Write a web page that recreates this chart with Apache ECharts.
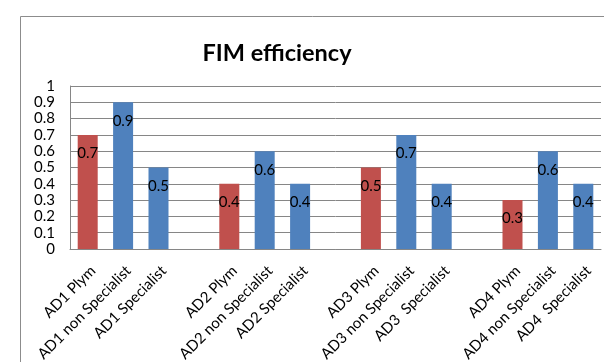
<!DOCTYPE html>
<html>
<head>
<meta charset="utf-8">
<script src="https://cdn.jsdelivr.net/npm/echarts@6/dist/echarts.min.js"></script>
<style>
  html, body { margin: 0; padding: 0; background: #fff; }
  #chart { width: 604px; height: 362px; }
</style>
</head>
<body>
<div id="chart"></div>
<script>
// FIM efficiency per AD group: Plym, non Specialist and Specialist
const categories = [
  'AD1 Plym', 'AD1 non Specialist', 'AD1 Specialist', ' ',
  'AD2 Plym', 'AD2 non Specialist', 'AD2 Specialist', '  ',
  'AD3 Plym', 'AD3 non Specialist', 'AD3  Specialist', '   ',
  'AD4 Plym', 'AD4 non Specialist', 'AD4  Specialist'
];
const efficiency = [0.7, 0.9, 0.5, null, 0.4, 0.6, 0.4, null, 0.5, 0.7, 0.4, null, 0.3, 0.6, 0.4];
const yTicks = [0, 0.1, 0.2, 0.3, 0.4, 0.5, 0.6, 0.7, 0.8, 0.9, 1];

const RED = '#C0504D';
const BLUE = '#4F81BD';
const FONT = 'Lato';

const chart = echarts.init(document.getElementById('chart'));

const barData = efficiency.map((v, i) => ({
  value: v,
  itemStyle: { color: categories[i].indexOf('Plym') >= 0 ? RED : BLUE }
}));

chart.setOption({
  animation: false,
  graphic: [
    {
      type: 'rect',
      shape: { x: 20.5, y: 16.5, width: 620, height: 400 },
      style: { fill: 'none', stroke: '#8c8c8c', lineWidth: 1 },
      silent: true
    },
    {
      type: 'text',
      x: 277, y: 53,
      style: {
        text: 'FIM efficiency',
        fontFamily: FONT,
        fontWeight: 'bold',
        fontSize: 23.5,
        fill: '#000',
        textAlign: 'center',
        textVerticalAlign: 'middle'
      }
    }
  ],
  grid: {
    left: 70, right: 3, top: 86, bottom: 113,
    containLabel: false,
    outerBoundsMode: 'none'
  },
  xAxis: {
    type: 'category',
    data: categories,
    axisLine: { lineStyle: { color: '#868686' } },
    axisTick: { show: false },
    axisLabel: {
      interval: 0,
      rotate: 45,
      align: 'right',
      verticalAlign: 'top',
      margin: 14,
      color: '#000',
      fontFamily: FONT,
      fontSize: 15
    }
  },
  yAxis: {
    type: 'value',
    min: yTicks[0],
    max: yTicks[yTicks.length - 1],
    interval: 0.1,
    axisLine: { show: true, lineStyle: { color: '#868686' } },
    axisTick: { show: false },
    axisLabel: {
      color: '#000',
      fontFamily: FONT,
      fontSize: 15,
      margin: 15
    },
    splitLine: { lineStyle: { color: '#868686' } }
  },
  series: [{
    type: 'bar',
    data: barData,
    barWidth: 20,
    label: {
      show: true,
      position: 'insideTop',
      distance: 11,
      color: '#000',
      fontFamily: FONT,
      fontSize: 15
    }
  }]
});
</script>
</body>
</html>
